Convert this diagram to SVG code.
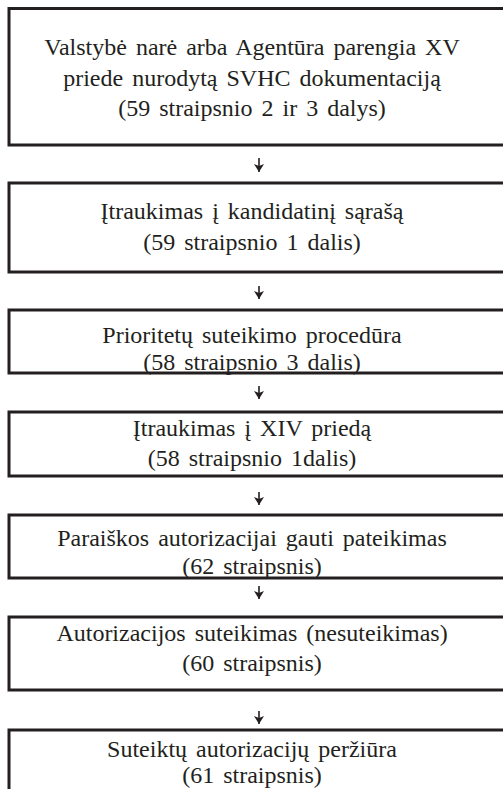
<svg xmlns="http://www.w3.org/2000/svg" width="503" height="789" viewBox="0 0 503 789">
<style>
.box{fill:#fff;stroke:#231f20;stroke-width:3}
.t{font-family:'Liberation Serif','DejaVu Serif','Times New Roman',serif;font-size:24px;fill:#231f20;text-anchor:middle;word-spacing:3px}
.c{stroke:#231f20;stroke-width:1.6;fill:none}
</style>
<defs>
<marker id="ah" viewBox="0 0 8 10" refX="8" refY="5" markerWidth="8" markerHeight="10" markerUnits="userSpaceOnUse" orient="auto">
<path d="M0,0 L8,5 L0,10 L2,5 Z" fill="#231f20"/>
</marker>
</defs>
<rect width="503" height="789" fill="#fff"/>
<g id="connectors">
<line class="c" x1="259" y1="158" x2="259" y2="172" marker-end="url(#ah)"/>
<line class="c" x1="259" y1="286" x2="259" y2="299" marker-end="url(#ah)"/>
<line class="c" x1="259" y1="386" x2="259" y2="399" marker-end="url(#ah)"/>
<line class="c" x1="259" y1="492" x2="259" y2="505" marker-end="url(#ah)"/>
<line class="c" x1="259" y1="586" x2="259" y2="599" marker-end="url(#ah)"/>
<line class="c" x1="259" y1="711" x2="259" y2="724" marker-end="url(#ah)"/>
</g>
<g id="n1">
<rect class="box" x="9" y="8.5" width="510" height="136.5"/>
<text class="t" x="252" y="55">Valstybė narė arba Agentūra parengia XV</text>
<text class="t" x="252" y="86">priede nurodytą SVHC dokumentaciją</text>
<text class="t" x="252" y="116">(59 straipsnio 2 ir 3 dalys)</text>
</g>
<g id="n2">
<rect class="box" x="9" y="183" width="510" height="89"/>
<text class="t" x="252" y="219">Įtraukimas į kandidatinį sąrašą</text>
<text class="t" x="252" y="250">(59 straipsnio 1 dalis)</text>
</g>
<g id="n3">
<rect class="box" x="9" y="310" width="510" height="63"/>
<text class="t" x="252" y="343">Prioritetų suteikimo procedūra</text>
<text class="t" x="252" y="370">(58 straipsnio 3 dalis)</text>
</g>
<g id="n4">
<rect class="box" x="9" y="412" width="510" height="64"/>
<text class="t" x="252" y="436">Įtraukimas į XIV priedą</text>
<text class="t" x="252" y="466">(58 straipsnio 1dalis)</text>
</g>
<g id="n5">
<rect class="box" x="9" y="515" width="510" height="63"/>
<text class="t" x="252" y="546">Paraiškos autorizacijai gauti pateikimas</text>
<text class="t" x="252" y="574">(62 straipsnis)</text>
</g>
<g id="n6">
<rect class="box" x="9" y="617" width="510" height="73"/>
<text class="t" x="252" y="641">Autorizacijos suteikimas (nesuteikimas)</text>
<text class="t" x="252" y="671">(60 straipsnis)</text>
</g>
<g id="n7">
<rect class="box" x="9" y="730" width="510" height="80"/>
<text class="t" x="252" y="757">Suteiktų autorizacijų peržiūra</text>
<text class="t" x="252" y="783">(61 straipsnis)</text>
</g>
</svg>
